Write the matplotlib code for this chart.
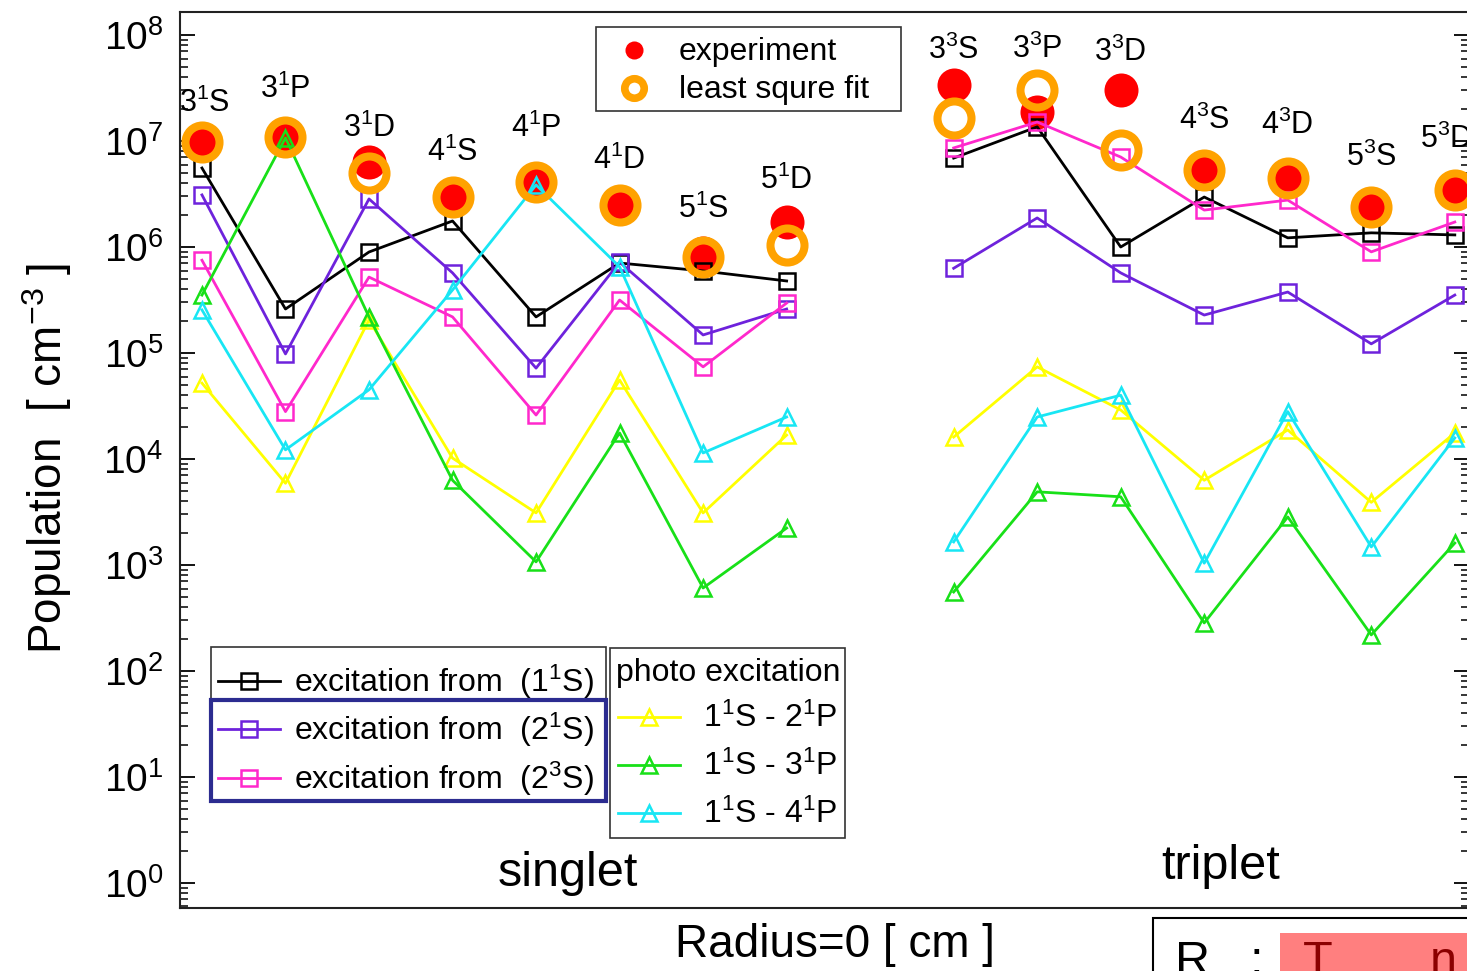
import numpy as np
import matplotlib
matplotlib.use("Agg")
import matplotlib.pyplot as plt
from matplotlib.lines import Line2D
from matplotlib.patches import Rectangle
from matplotlib.ticker import LogLocator, NullFormatter

plt.rcParams["font.family"] = ["Liberation Sans", "DejaVu Sans"]
plt.rcParams["mathtext.fontset"] = "custom"
plt.rcParams["mathtext.rm"] = "Liberation Sans"
plt.rcParams["mathtext.it"] = "Liberation Sans:italic"
plt.rcParams["mathtext.bf"] = "Liberation Sans:bold"

# ---------------------------------------------------------------- data
singlet_levels = [r"3$^{1}$S", r"3$^{1}$P", r"3$^{1}$D", r"4$^{1}$S",
                  r"4$^{1}$P", r"4$^{1}$D", r"5$^{1}$S", r"5$^{1}$D"]
triplet_levels = [r"3$^{3}$S", r"3$^{3}$P", r"3$^{3}$D", r"4$^{3}$S",
                  r"4$^{3}$D", r"5$^{3}$S", r"5$^{3}$D"]
pos_singlet = [0, 1, 2, 3, 4, 5, 6, 7]
pos_triplet = [9, 10, 11, 12, 13, 14, 15]

# measured populations [cm^-3]
exp_singlet = [9.8e6, 1.09e7, 6.3e6, 2.96e6, 4.1e6, 2.66e6, 8.8e5, 1.72e6]
exp_triplet = [3.4e7, 1.88e7, 3.03e7, 5.3e6, 4.57e6, 2.49e6, 3.6e6]
fit_singlet = [9.8e6, 1.09e7, 5.0e6, 2.96e6, 4.1e6, 2.49e6, 8.05e5, 1.04e6]
fit_triplet = [1.65e7, 3.03e7, 8.2e6, 5.3e6, 4.48e6, 2.38e6, 3.45e6]

# electron-impact excitation components
from_11S_singlet = [5.56e6, 2.6e5, 8.97e5, 1.76e6, 2.19e5, 7.06e5, 5.94e5, 4.78e5]
from_11S_triplet = [6.9e6, 1.36e7, 1.0e6, 2.96e6, 1.22e6, 1.36e6, 1.30e6]
from_21S_singlet = [3.1e6, 9.8e4, 2.84e6, 5.7e5, 7.2e4, 7.2e5, 1.48e5, 2.6e5]
from_21S_triplet = [6.3e5, 1.88e6, 5.7e5, 2.28e5, 3.76e5, 1.22e5, 3.52e5]
from_23S_singlet = [7.5e5, 2.8e4, 5.2e5, 2.19e5, 2.6e4, 3.16e5, 7.4e4, 2.96e5]
from_23S_triplet = [8.6e6, 1.51e7, 7.06e6, 2.23e6, 2.77e6, 9.0e5, 1.72e6]

# photo-excitation components
photo_2P_singlet = [5.2e4, 5.9e3, 2.05e5, 1.02e4, 3.1e3, 5.56e4, 3.1e3, 1.68e4]
photo_2P_triplet = [1.61e4, 7.4e4, 2.9e4, 6.3e3, 1.88e4, 3.9e3, 1.76e4]
photo_3P_singlet = [3.52e5, 1.07e7, 2.19e5, 6.3e3, 1.07e3, 1.76e4, 607, 2.23e3]
photo_3P_triplet = [556, 4.9e3, 4.4e3, 284, 2.84e3, 219, 1.61e3]
photo_4P_singlet = [2.55e5, 1.22e4, 4.5e4, 3.93e5, 3.85e6, 6.5e5, 1.14e4, 2.49e4]
photo_4P_triplet = [1.65e3, 2.49e4, 4.0e4, 1.04e3, 2.8e4, 1.48e3, 1.58e4]

excitation_labels = [r"excitation from  (1$^{1}$S)",
                     r"excitation from  (2$^{1}$S)",
                     r"excitation from  (2$^{3}$S)"]
photo_labels = [r"1$^{1}$S - 2$^{1}$P", r"1$^{1}$S - 3$^{1}$P", r"1$^{1}$S - 4$^{1}$P"]

# ---------------------------------------------------------------- style
W, H, DPI = 1467, 971, 100
C_BLACK = "#000000"
C_PURPLE = "#6e22dc"
C_MAGENTA = "#ff28cc"
C_YELLOW = "#ffff00"
C_GREEN = "#18e018"
C_CYAN = "#18e6f4"
C_RED = "#ff0000"
C_ORANGE = "#ffa200"

LW = 2.0
SQ = dict(marker="s", ms=11, mew=1.8, mfc="none")
TR = dict(marker="^", ms=12, mew=1.8, mfc="none")


def fx(x):
    return x / W


def fy(y):
    return 1 - y / H


fig = plt.figure(figsize=(W / DPI, H / DPI), dpi=DPI)
fig.patch.set_facecolor("white")
ax = fig.add_axes([fx(180), fy(908), (1469 - 180) / W, (908 - 12) / H])

ax.set_yscale("log")
ax.set_ylim(10 ** -0.236, 10 ** 8.217)
ax.set_xlim(-0.263, 15.17)

series = [
    (from_11S_singlet, from_11S_triplet, C_BLACK, SQ),
    (from_21S_singlet, from_21S_triplet, C_PURPLE, SQ),
    (from_23S_singlet, from_23S_triplet, C_MAGENTA, SQ),
    (photo_2P_singlet, photo_2P_triplet, C_YELLOW, TR),
    (photo_3P_singlet, photo_3P_triplet, C_GREEN, TR),
    (photo_4P_singlet, photo_4P_triplet, C_CYAN, TR),
]

# experimental points sit underneath the model curves
ax.plot(pos_singlet, exp_singlet, ls="none", marker="o", ms=24.5,
        color=C_RED, mec="none", zorder=2)
ax.plot(pos_triplet, exp_triplet, ls="none", marker="o", ms=24.5,
        color=C_RED, mec="none", zorder=2)

for s_vals, t_vals, col, mk in series:
    ax.plot(pos_singlet, s_vals, color=col, lw=LW, mec=col, zorder=3, **mk)
    ax.plot(pos_triplet, t_vals, color=col, lw=LW, mec=col, zorder=3, **mk)

# least-square fit rings on top
ax.plot(pos_singlet, fit_singlet, ls="none", marker="o", ms=24.5,
        mfc="none", mec=C_ORANGE, mew=5.8, zorder=4)
ax.plot(pos_triplet, fit_triplet, ls="none", marker="o", ms=24.5,
        mfc="none", mec=C_ORANGE, mew=5.8, zorder=4)

# level names above the measured points (offsets in points)
singlet_label_dy = [28, 34, 24.5, 32, 39, 30, 31, 30]
singlet_label_dx = [2, 0, 0, 0, 0, 0, 0, 0]
triplet_label_dy = [25, 29, 27, 36, 37.5, 34, 35]
triplet_label_dx = [0, 0, 0, 0, 0, 0, -6]
for x, name, e, f, dx, dy in zip(pos_singlet, singlet_levels, exp_singlet,
                                 fit_singlet, singlet_label_dx, singlet_label_dy):
    ax.annotate(name, xy=(x, max(e, f)), xytext=(dx, dy),
                textcoords="offset points", ha="center", va="center",
                fontsize=22, zorder=6)
for x, name, e, f, dx, dy in zip(pos_triplet, triplet_levels, exp_triplet,
                                 fit_triplet, triplet_label_dx, triplet_label_dy):
    ax.annotate(name, xy=(x, max(e, f)), xytext=(dx, dy),
                textcoords="offset points", ha="center", va="center",
                fontsize=22, zorder=6, annotation_clip=False)

# group names
ax.text(4.38, 0.039, "singlet", transform=ax.get_xaxis_transform(),
        ha="center", va="center", fontsize=35)
ax.text(12.2, 0.046, "triplet", transform=ax.get_xaxis_transform(),
        ha="center", va="center", fontsize=35)

# axes, ticks
for sp in ax.spines.values():
    sp.set_linewidth(1.5)
    sp.set_color("#222222")
ax.yaxis.set_major_locator(LogLocator(base=10, numticks=20))
ax.yaxis.set_minor_locator(LogLocator(base=10, subs=np.arange(2, 10), numticks=100))
ax.yaxis.set_minor_formatter(NullFormatter())
ax.tick_params(axis="y", which="major", direction="in", length=11, width=1.3,
               left=True, right=True, labelsize=28, pad=12)
ax.tick_params(axis="y", which="minor", direction="in", length=6, width=1.1,
               left=True, right=True)
ax.tick_params(axis="x", which="both", bottom=False, top=False,
               labelbottom=False)

fig.text(fx(47), fy(458), r"Population  [ cm$^{-3}$ ]", rotation=90,
         ha="center", va="center", fontsize=33)
fig.text(fx(835), fy(945), "Radius=0 [ cm ]", ha="center", va="center",
         fontsize=33)

# ---------------------------------------------------------------- legends
def frame(x0, y0, x1, y1, color="#333333", lw=1.2, z=10):
    fig.add_artist(Rectangle((fx(x0), fy(y1)), fx(x1) - fx(x0), fy(y0) - fy(y1),
                             transform=fig.transFigure, fill=True, fc="white",
                             ec=color, lw=lw, zorder=z))


def handle(x0, x1, y, color, mk):
    fig.add_artist(Line2D([fx(x0), fx(x1)], [fy(y), fy(y)], color=color, lw=LW,
                          transform=fig.transFigure, zorder=11))
    fig.add_artist(Line2D([fx((x0 + x1) / 2)], [fy(y)], color=color, mec=color,
                          ls="none", transform=fig.transFigure, zorder=11, **mk))


# experiment / fit legend
frame(596, 27, 901, 111)
fig.add_artist(Line2D([fx(634)], [fy(50)], ls="none", marker="o", ms=13,
                      color=C_RED, mec="none", transform=fig.transFigure, zorder=11))
fig.add_artist(Line2D([fx(634)], [fy(88)], ls="none", marker="o", ms=14,
                      mfc="none", mec=C_ORANGE, mew=5.5,
                      transform=fig.transFigure, zorder=11))
fig.text(fx(679), fy(52), "experiment", ha="left", va="center", fontsize=23, zorder=12)
fig.text(fx(679), fy(90), "least squre fit", ha="left", va="center", fontsize=23, zorder=12)

# excitation legend
frame(211, 647, 606, 801)
for y, lab, col in zip([681, 729, 778], excitation_labels, [C_BLACK, C_PURPLE, C_MAGENTA]):
    handle(218, 280, y, col, SQ)
    fig.text(fx(294), fy(y + 1), lab, ha="left", va="center", fontsize=23, zorder=12)
fig.add_artist(Rectangle((fx(211), fy(801)), fx(606) - fx(211), fy(700) - fy(801),
                         transform=fig.transFigure, fill=False, ec="#2c2c90",
                         lw=3.0, zorder=13))

# photo-excitation legend
frame(610, 648, 845, 838)
fig.text(fx(616), fy(673), "photo excitation", ha="left", va="center", fontsize=23, zorder=12)
for y, lab, col in zip([717, 765, 813], photo_labels, [C_YELLOW, C_GREEN, C_CYAN]):
    handle(618, 680, y, col, TR)
    fig.text(fx(703), fy(y + 1), lab, ha="left", va="center", fontsize=23, zorder=12)

# neighbouring panel header peeking in at the lower right
fig.add_artist(Rectangle((fx(1153), fy(1000)), fx(1490) - fx(1153), fy(918) - fy(1000),
                         transform=fig.transFigure, fc="white", ec="black",
                         lw=1.5, zorder=10))
fig.add_artist(Rectangle((fx(1280), fy(1000)), fx(1490) - fx(1280), fy(933) - fy(1000),
                         transform=fig.transFigure, fc="#ff7f7f", ec="none", zorder=11))
fig.text(fx(1175), fy(940), "R", ha="left", va="top", fontsize=35, zorder=12)
fig.text(fx(1250), fy(940), ":", ha="left", va="top", fontsize=35, zorder=12)
fig.text(fx(1303), fy(940), "T", ha="left", va="top", fontsize=35,
         color="#8b0000", zorder=12)
fig.text(fx(1430), fy(940), "n", ha="left", va="top", fontsize=35,
         color="#8b0000", zorder=12)

fig.savefig("out.png", dpi=DPI, facecolor="white")
